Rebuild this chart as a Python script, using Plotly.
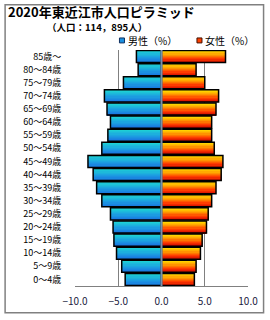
import plotly.graph_objects as go

ages = ["0～4歳", "5～9歳", "10～14歳", "15～19歳", "20～24歳", "25～29歳",
        "30～34歳", "35～39歳", "40～44歳", "45～49歳", "50～54歳", "55～59歳",
        "60～64歳", "65～69歳", "70～74歳", "75～79歳", "80～84歳", "85歳～"]
male = [4.2, 4.6, 5.2, 5.5, 5.6, 5.9, 6.9, 7.5, 7.9, 8.5, 6.9, 6.2,
        5.9, 6.3, 6.6, 4.4, 2.7, 2.9]
female = [3.8, 4.0, 4.5, 4.7, 5.2, 5.4, 5.8, 6.3, 6.9, 7.1, 6.1, 5.8,
          5.8, 6.3, 6.6, 5.0, 4.0, 7.4]
x_ticks = [-10, -5, 0, 5, 10]

FONT = "Noto Sans CJK JP"
N = 10
W = 0.92

def lerp(c1, c2, t):
    return "rgb(%d,%d,%d)" % tuple(round(a + (b - a) * t) for a, b in zip(c1, c2))

def grad(stops, t):
    for (p1, c1), (p2, c2) in zip(stops, stops[1:]):
        if p1 <= t <= p2:
            return lerp(c1, c2, (t - p1) / (p2 - p1) if p2 > p1 else 0)
    return lerp(stops[-1][1], stops[-1][1], 0)

male_stops = [(0, (24, 110, 225)), (0.5, (28, 160, 225)), (1, (30, 212, 212))]
female_stops = [(0, (200, 0, 0)), (0.35, (255, 60, 0)), (0.7, (255, 160, 0)), (1, (255, 220, 0))]

fig = go.Figure()
neg_male = [-v for v in male]
for vals, stops in ((neg_male, male_stops), (female, female_stops)):
    for i in range(N):
        t = (i + 0.5) / N
        fig.add_trace(go.Bar(
            y=ages, x=vals, orientation="h",
            width=W / N + 0.002, offset=-W / 2 + i * W / N,
            marker=dict(color=grad(stops, t), line=dict(width=0)),
            showlegend=False, hoverinfo="skip"))
    fig.add_trace(go.Bar(
        y=ages, x=vals, orientation="h", width=W, offset=-W / 2,
        marker=dict(color="rgba(0,0,0,0)", line=dict(color="black", width=1.5)),
        showlegend=False))

fig.update_layout(
    width=270, height=320,
    margin=dict(l=75, r=21, t=50, b=31),
    paper_bgcolor="white", plot_bgcolor="white",
    barmode="overlay",
    font=dict(family=FONT, color="black"),
    xaxis=dict(range=[-10, 10], tickvals=x_ticks, tickformat=".1f",
               showgrid=True, gridcolor="#808080", gridwidth=1,
               zeroline=False, showline=True, linecolor="#808080", linewidth=1,
               ticks="outside", ticklen=6, tickcolor="rgba(0,0,0,0)",
               tickfont=dict(size=10, color="#1a1a40", family=FONT),
               fixedrange=True),
    yaxis=dict(type="category", categoryorder="array", categoryarray=ages,
               range=[-0.5, len(ages) - 0.5],
               showgrid=False, zeroline=False, showline=False,
               ticks="outside", ticklen=11, tickcolor="rgba(0,0,0,0)",
               tickfont=dict(size=9, color="black", family=FONT)),
    shapes=[
        dict(type="line", xref="x", yref="paper", x0=0, x1=0, y0=0, y1=1,
             line=dict(color="#7890a8", width=2), layer="above"),
        dict(type="rect", xref="paper", yref="paper",
             x0=-0.404, x1=1.09, y0=-0.113, y1=1.192,
             line=dict(color="#808080", width=1.5), layer="below"),
        dict(type="rect", xref="paper", yref="paper",
             x0=0.257, x1=0.286, y0=1.030, y1=1.051,
             fillcolor="#1c90e0", line=dict(color="#103060", width=1)),
        dict(type="rect", xref="paper", yref="paper",
             x0=0.705, x1=0.734, y0=1.030, y1=1.051,
             fillcolor="#ff4000", line=dict(color="#401000", width=1)),
    ],
    annotations=[
        dict(text="<b>2020年東近江市人口ピラミッド</b>", xref="paper", yref="paper",
             x=-0.40, y=1.163, xanchor="left", yanchor="middle", showarrow=False,
             font=dict(size=13, family=FONT, color="black")),
        dict(text="<b>（人口：114，895人）</b>", xref="paper", yref="paper",
             x=-0.175, y=1.098, xanchor="left", yanchor="middle", showarrow=False,
             font=dict(size=9.5, family=FONT, color="black")),
        dict(text="男性（%）", xref="paper", yref="paper",
             x=0.295, y=1.04, xanchor="left", yanchor="middle", showarrow=False,
             font=dict(size=10, family=FONT, color="black")),
        dict(text="女性（%）", xref="paper", yref="paper",
             x=0.74, y=1.04, xanchor="left", yanchor="middle", showarrow=False,
             font=dict(size=10, family=FONT, color="black")),
    ],
)

fig.write_html("out.html")
